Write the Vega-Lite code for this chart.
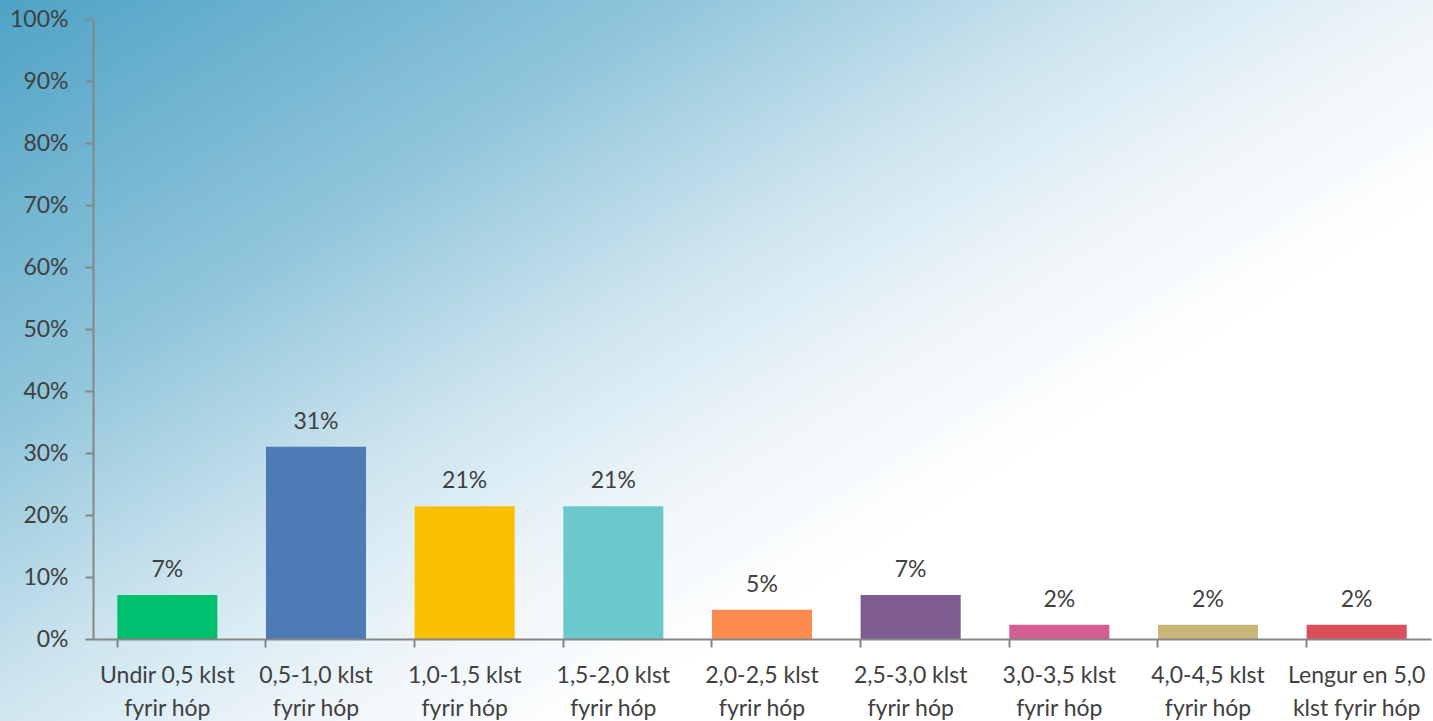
{
  "$schema": "https://vega.github.io/schema/vega-lite/v6.json",
  "width": 1433,
  "height": 721,
  "padding": 0,
  "autosize": {"type": "none"},
  "background": "#ffffff",
  "config": {
    "view": {"stroke": null},
    "font": "Lato",
    "axis": {"grid": false}
  },
  "data": {
    "values": [
      {"cat": "Undir 0,5 klst|fyrir hóp", "value": 0.071, "color": "#00bf6e"},
      {"cat": "0,5-1,0 klst|fyrir hóp", "value": 0.31, "color": "#4e7ab5"},
      {"cat": "1,0-1,5 klst|fyrir hóp", "value": 0.214, "color": "#f8c000"},
      {"cat": "1,5-2,0 klst|fyrir hóp", "value": 0.214, "color": "#6bc9cc"},
      {"cat": "2,0-2,5 klst|fyrir hóp", "value": 0.047, "color": "#fd8b4f"},
      {"cat": "2,5-3,0 klst|fyrir hóp", "value": 0.071, "color": "#7d5c91"},
      {"cat": "3,0-3,5 klst|fyrir hóp", "value": 0.023, "color": "#d45e91"},
      {"cat": "4,0-4,5 klst|fyrir hóp", "value": 0.023, "color": "#c9b779"},
      {"cat": "Lengur en 5,0|klst fyrir hóp", "value": 0.023, "color": "#db4e5a"}
    ]
  },
  "layer": [
    {
      "mark": {
        "type": "rect",
        "fill": {
          "gradient": "linear",
          "x1": 0, "y1": 0, "x2": 1.095, "y2": 0.882,
          "stops": [
            {"offset": 0, "color": "#4fa3c6"},
            {"offset": 0.26, "color": "#90c5db"},
            {"offset": 0.43, "color": "#cde4ee"},
            {"offset": 0.49, "color": "#dcedf5"},
            {"offset": 0.56, "color": "#eef5f9"},
            {"offset": 0.68, "color": "#ffffff"},
            {"offset": 1, "color": "#ffffff"}
          ]
        }
      },
      "encoding": {}
    },
    {
      "mark": {"type": "bar"},
      "encoding": {
        "x": {
          "field": "cat", "type": "nominal", "sort": null,
          "scale": {"range": [93, 1431], "paddingInner": 0.327, "paddingOuter": 0.1635},
          "axis": {
            "title": null, "offset": -82, "labelAngle": 0, "zindex": 1,
            "labelExpr": "split(datum.value, '|')",
            "labelFontSize": 23, "labelColor": "#404040", "labelLineHeight": 33,
            "labelPadding": 17, "bandPosition": 0,
            "domainColor": "#868686", "domainWidth": 2,
            "tickColor": "#868686", "tickWidth": 2, "tickSize": 8
          }
        },
        "y": {
          "field": "value", "type": "quantitative",
          "scale": {"domain": [0, 1], "range": [639, 19], "nice": false},
          "axis": {
            "title": null, "offset": -93, "zindex": 1, "values": [0, 0.1, 0.2, 0.3, 0.4, 0.5, 0.6, 0.7, 0.8, 0.9, 1],
            "format": ".0%", "labelFontSize": 23, "labelColor": "#404040", "labelPadding": 17,
            "domainColor": "#868686", "domainWidth": 2,
            "tickColor": "#868686", "tickWidth": 2, "tickSize": 8
          }
        },
        "color": {"field": "color", "type": "nominal", "scale": null, "legend": null}
      }
    },
    {
      "mark": {"type": "text", "fontSize": 23, "color": "#404040", "baseline": "alphabetic", "dy": -18},
      "encoding": {
        "x": {"field": "cat", "type": "nominal", "sort": null},
        "y": {"field": "value", "type": "quantitative"},
        "text": {"field": "value", "type": "quantitative", "format": ".0%"}
      }
    }
  ]
}
